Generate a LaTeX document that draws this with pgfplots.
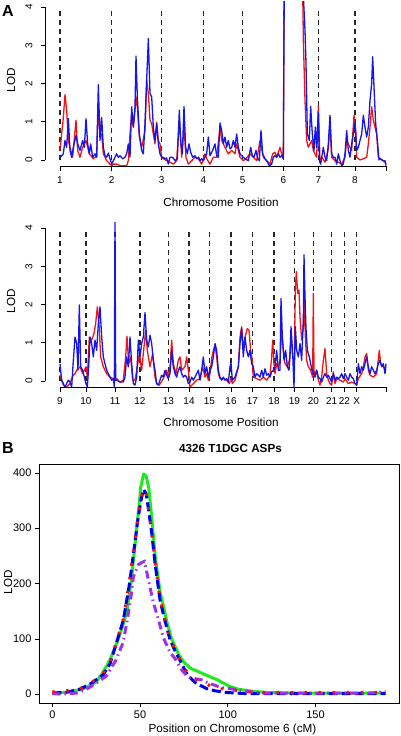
\documentclass[border=0pt]{standalone}
\usepackage{fontspec}
\setmainfont{Liberation Sans}
\usepackage{pgfplots}
\usepackage{pgfplotstable}
\pgfplotsset{compat=1.18}

% ---------- Panel A, top (chromosomes 1-8) ----------
\pgfplotstableread{
x y
180 0.25
185 0.68
190 1.11
195 1.71
200 1.30
205 0.51
210 0.33
218 0.07
228 1.04
233 0.25
240 0.07
248 0.33
258 0.51
268 0.16
280 0.03
290 0.10
295 1.50
300 0.60
305 0.68
310 0.16
320 -0.02
330 -0.11
335 -0.15
340 -0.11
350 -0.11
360 -0.15
370 -0.15
380 -0.15
385 -0.02
390 0.68
395 1.21
400 0.86
405 1.30
408 1.65
412 1.39
418 0.60
425 0.33
435 0.77
440 2.09
445 1.74
450 1.04
455 0.95
460 0.68
465 0.42
470 0.99
475 0.51
480 0.42
485 0.07
490 0.03
500 -0.02
510 -0.06
520 -0.11
530 -0.02
538 1.04
545 0.07
552 0.86
558 0.07
565 -0.11
575 -0.02
585 0.07
595 0.03
605 -0.11
615 0.16
620 0.03
630 -0.11
640 0.07
650 0.07
660 0.86
665 0.51
675 0.33
685 0.16
695 0.25
705 0.16
710 0.42
720 0.07
730 -0.02
740 0.05
750 0.16
760 0.07
770 -0.02
780 0.51
790 0.07
800 -0.02
810 -0.11
818 0.16
825 0.20
830 0.07
840 0.33
845 0.16
850 0.07
854 8.0
903 8.0
910 3.14
915 1.56
920 0.51
925 0.33
930 0.42
935 0.51
940 0.25
950 0.07
955 1.43
960 -0.02
966 0.07
975 -0.06
985 0.29
990 0.95
995 0.07
1005 -0.02
1015 -0.06
1025 -0.11
1035 0.07
1040 0.51
1050 0.33
1055 0.25
1062 1.17
1068 0.68
1070 0.07
1080 0.00
1090 0.03
1100 0.07
1105 0.42
1110 0.86
1115 1.39
1120 1.04
1125 0.86
1130 0.68
1135 0.07
1145 0.00
1155 -0.06
1158 -0.11
}\topred

\pgfplotstableread{
x y
180 0.07
185 0.11
190 0.16
195 0.51
200 0.33
205 1.08
210 0.25
215 0.07
220 0.33
228 0.64
233 0.42
240 0.25
248 0.51
253 0.33
258 1.08
263 0.42
268 0.16
272 0.42
278 0.07
285 0.16
290 0.07
295 1.97
300 0.51
305 1.11
310 0.33
315 0.11
320 0.07
325 0.18
330 0.03
335 -0.11
340 -0.02
345 0.07
350 0.16
355 0.07
360 0.11
368 0.03
375 0.07
380 0.16
385 0.42
390 0.07
395 1.39
400 0.86
405 1.39
408 2.72
412 1.65
418 0.68
425 0.25
430 0.16
435 0.95
440 2.09
445 3.18
450 1.74
455 1.65
460 0.86
465 0.51
470 0.95
475 0.42
480 0.16
485 0.07
490 0.07
495 0.03
500 0.05
505 -0.11
510 0.07
518 0.07
525 -0.02
532 0.03
538 1.30
542 0.51
547 0.16
552 1.40
557 0.33
562 0.16
567 0.42
572 0.20
578 0.07
585 0.11
590 0.03
596 0.07
600 -0.02
605 0.03
610 -0.02
615 0.07
620 0.16
625 0.60
630 0.11
638 0.25
645 0.42
650 0.11
655 0.07
660 0.97
665 0.77
670 0.42
675 0.60
680 0.33
685 0.51
690 0.29
695 0.33
700 0.51
705 0.33
710 0.68
715 0.33
720 0.16
725 0.11
730 0.07
735 0.03
745 -0.02
752 0.33
757 0.11
762 0.07
768 0.25
773 0.03
778 -0.02
783 0.77
788 0.16
795 0.03
800 -0.02
808 -0.15
815 -0.11
820 0.07
825 0.11
830 0.07
835 0.16
840 0.07
845 0.11
850 0.03
855 8.0
905 8.0
910 4.30
915 3.40
918 2.53
922 0.68
928 0.51
932 1.40
937 0.68
942 0.25
946 0.86
950 0.33
955 1.25
958 -0.02
962 -0.11
966 0.11
970 0.33
975 0.07
980 -0.02
985 0.42
990 1.17
995 0.16
1000 0.07
1005 0.07
1010 -0.11
1015 0.16
1020 -0.02
1025 -0.15
1030 -0.11
1035 0.16
1040 0.77
1045 0.25
1050 0.07
1055 0.42
1060 0.68
1065 0.99
1070 0.25
1075 0.33
1080 0.51
1085 0.68
1090 1.17
1095 0.86
1100 0.60
1105 0.86
1110 1.56
1115 2.00
1118 2.70
1122 1.91
1127 0.95
1132 0.51
1137 0.00
1142 0.03
1150 -0.02
1155 -0.02
1158 -0.15
}\topblue

% ---------- Panel A, bottom (chromosomes 9-X) ----------
\pgfplotstableread{
x y
180 0.15
190 -0.11
200 -0.16
210 -0.07
215 0.06
220 0.15
225 0.19
230 0.28
240 0.37
248 0.19
258 0.37
262 0.10
268 1.15
275 1.07
282 1.24
287 1.50
292 1.94
297 1.50
302 0.63
310 0.37
320 0.19
330 0.10
340 0.06
345 0.02
350 0.06
360 -0.03
370 0.02
377 0.63
381 1.17
386 0.45
392 0.63
398 0.02
405 0.02
412 0.37
418 0.72
425 0.28
430 0.72
437 1.33
442 0.80
450 0.37
458 0.72
465 0.10
470 -0.07
478 -0.11
490 0.06
500 0.28
505 0.10
510 0.37
515 1.07
520 0.45
528 0.19
535 0.54
540 0.63
545 0.28
555 0.37
560 0.63
565 0.28
570 -0.16
580 -0.07
590 0.02
600 0.06
608 0.37
615 0.10
620 0.19
625 0.02
630 0.19
635 0.59
640 0.80
645 0.94
650 0.63
655 0.19
660 0.06
670 0.06
680 0.02
688 -0.07
693 0.06
697 -0.07
705 0.02
715 0.37
720 1.15
725 1.42
730 0.80
735 1.15
742 1.37
747 1.33
752 0.80
757 0.54
760 0.10
770 0.06
780 0.02
790 0.10
800 0.02
810 0.15
815 0.63
818 1.07
822 0.45
825 0.19
830 0.45
835 0.37
840 0.54
845 1.33
850 0.80
855 0.45
862 0.37
868 0.54
873 1.15
878 0.63
883 0.54
886 2.38
889 2.86
893 2.29
897 2.38
900 1.68
905 1.07
910 1.42
913 2.29
916 1.15
920 0.54
925 0.37
932 0.28
938 0.10
940 2.29
942 0.28
945 0.15
950 0.28
955 0.02
960 -0.11
965 0.10
970 0.54
975 0.85
980 0.19
985 0.02
990 -0.07
995 -0.11
1000 0.24
1005 -0.07
1010 0.06
1020 0.02
1030 -0.03
1035 0.06
1045 -0.07
1055 -0.03
1065 -0.07
1070 -0.11
1075 0.06
1085 0.19
1090 0.37
1095 0.63
1100 0.72
1105 0.28
1110 0.15
1120 0.10
1130 0.19
1138 0.80
1142 0.45
1150 0.37
1158 0.28
}\botred

\pgfplotstableread{
x y
180 0.45
185 0.02
190 -0.07
195 -0.16
200 -0.07
205 0.02
210 -0.03
215 -0.16
220 0.54
225 1.15
230 0.98
234 0.28
238 1.99
242 0.37
248 0.28
253 0.10
258 -0.07
262 -0.16
266 0.37
270 1.15
275 0.98
280 0.63
285 1.07
290 0.80
295 1.50
300 1.94
305 1.15
310 0.63
315 0.45
320 0.28
325 0.19
330 0.10
335 0.02
340 0.06
343 -0.16
345 4.30
347 0.02
350 0.02
360 -0.03
370 -0.03
375 0.10
380 0.63
385 0.37
390 1.15
395 0.45
400 -0.07
405 -0.11
410 0.10
415 1.07
420 0.63
425 0.98
430 1.15
435 1.79
440 1.07
445 0.89
450 1.20
455 0.98
460 0.54
465 0.28
470 -0.07
475 -0.11
480 0.02
485 0.15
490 0.10
495 0.28
500 0.15
505 0.06
510 0.19
515 0.80
520 0.37
525 0.19
530 0.10
535 0.28
540 0.37
545 0.19
550 0.10
555 0.15
560 0.10
565 -0.07
570 -0.03
575 0.10
580 0.02
585 0.10
590 0.19
595 0.28
600 0.02
605 0.28
610 0.63
615 0.19
620 0.37
625 0.10
630 0.28
635 0.37
640 0.63
645 0.98
650 0.80
655 0.28
660 0.10
665 0.02
670 0.10
675 0.02
680 0.06
685 -0.03
690 0.37
693 0.47
697 0.02
705 0.10
715 0.37
720 0.98
725 1.37
730 0.63
735 1.15
740 0.80
745 0.63
750 0.80
755 0.45
760 0.37
765 0.10
770 0.19
775 0.15
780 0.10
785 0.28
790 0.10
795 0.32
800 0.15
805 0.19
810 0.10
815 0.24
820 0.28
825 0.37
830 0.80
835 0.28
840 0.28
843 2.16
847 1.15
852 0.54
857 0.80
862 0.37
867 0.28
870 0.63
873 1.42
878 0.72
882 -0.16
886 1.42
890 0.80
895 0.63
900 0.98
905 0.54
910 1.59
912 3.30
915 2.20
918 1.37
922 0.80
928 0.63
932 0.45
936 0.28
940 0.19
945 0.10
950 0.28
955 0.10
960 0.06
965 -0.03
970 0.10
975 0.19
980 0.10
985 0.15
990 0.06
995 -0.03
1000 0.19
1005 0.02
1010 0.10
1015 0.06
1020 0.10
1025 0.19
1030 0.06
1035 0.19
1040 0.10
1045 0.02
1050 0.19
1055 0.10
1060 0.06
1065 -0.07
1070 -0.11
1075 0.45
1080 0.19
1085 0.37
1090 0.28
1095 0.45
1100 0.63
1105 0.37
1110 0.19
1115 0.37
1120 0.28
1125 0.19
1130 0.28
1135 0.45
1140 0.54
1145 0.37
1150 0.45
1155 0.19
1158 0.45
}\botblue

% chromosome boundaries (dashed reference lines, drawn from LOD 0 to 4)
\pgfplotstableread{
x y
180 4
335 4
485 4
610 4
728 4
850 4
955 4
1065 4
}\topbounds
\pgfplotstableread{
x y
180 4
258 4
345 4
420 4
505 4
567 4
628 4
693 4
757 4
822 4
883 4
940 4
995 4
1033 4
1070 4
}\botbounds

% ---------- Panel B (chromosome 6) ----------
\pgfplotstableread{
x y
0 1
10 4
18 10
25 22
29 40
33 63
36.5 90
40 122
42.5 150
45 205
48 296
50.4 374
52 398
53.5 394
55 372
56.7 318
58.6 250
61.4 185
63.3 160
65.5 128
68 100
72 72
75 58
78.5 47
82.3 42
88 34
94 26
101 14
106 9
112 6
122 3
140 2
160 2
190 2
}\Bgreen

\pgfplotstableread{
x y
0 2
8 3.5
15.8 9
22.4 20
29 35
32.9 55
35.7 84
40.5 134
44 200
46.5 260
48.5 310
50.5 350
52 370
53.5 362
55 330
56.7 290
58.6 235
61.4 170
64 135
67.1 98
70 78
73.8 55
76 40
78.5 30
81 22
84.2 16
88 10
92.7 6
99.4 3
110 1
130 1
150 1
170 1
190 1
}\Bblue

\pgfplotstableread{
x y
0 4
7.9 6
15.8 10
22.4 21
29 38
32.9 58
35.7 86
40.5 136
44 205
46.5 265
48.5 312
50.5 352
52 372
53.5 362
55 332
56.7 292
58.6 238
61.4 172
64 137
67.1 100
70 80
73.8 55
78.5 31
82 27
86 22
92.7 10
100 9
108 5
120 3
140 3
160 3
180 3
190 3
}\Bred

\pgfplotstableread{
x y
0 1
5 0
10 1
14 2
19.5 9
27 24
30.8 33
36 60
40.3 93
42.4 128
45 180
46.2 212
49 234
51 238
52.5 240
54.8 206
57.6 165
60 140
63.3 102
67 76
70 64
73.7 44
77 32
80.4 28
85 26
89 20
92.7 16
96 12
101.3 10
108.9 6
120 2
150 2
180 2
186 3
190 5
}\Bpurple

\begin{document}
\begin{tikzpicture}
\path[use as bounding box] (0pt,0pt) rectangle (400pt,736pt);

\pgfplotsset{
  panelA/.style={
    scale only axis, width=355pt, height=165pt,
    xmin=135, xmax=1200, ymin=-0.185, ymax=4.135,
    axis lines*=left,
    axis line style={-, black, line width=1pt},
    x axis line style={shorten <=15pt, shorten >=13.33pt},
    y axis line style={shorten <=7.07pt, shorten >=5.16pt},
    tick align=outside, major tick length=4pt,
    tick style={black, line width=0.7pt},
    ytick={0,1,2,3,4},
    yticklabel style={xshift=-5pt, rotate=90, anchor=south, font=\fontsize{10}{12}\selectfont},
    xticklabel style={yshift=-2pt, font=\fontsize{10}{12}\selectfont},
    /pgf/number format/assume math mode=true,
  },
  bound/.style={ycomb, no marks, black!85, line width=1.1pt, dash pattern=on 5pt off 4pt},
  redA/.style={color={rgb,255:red,240;green,20;blue,20}, line width=1.3pt, line join=round},
  blueA/.style={color={rgb,255:red,20;green,20;blue,235}, line width=1.3pt, line join=round},
}

% ---- A top
\begin{axis}[panelA, at={(45pt,569pt)}, anchor=south west,
  xtick={180,335,485,610,728,850,955,1065,1160},
  xticklabels={1,2,3,4,5,6,7,8,{}}]
\addplot[bound] table {\topbounds};
\addplot[redA] table {\topred};
\addplot[blueA] table {\topblue};
\end{axis}

% ---- A bottom
\begin{axis}[panelA, at={(45pt,348pt)}, anchor=south west,
  xtick={180,258,345,420,505,567,628,693,757,822,883,940,995,1033,1070,1160},
  xticklabels={9,10,11,12,13,14,15,16,17,18,19,20,21,22,X,{}}]
\addplot[bound] table {\botbounds};
\addplot[redA] table {\botred};
\addplot[blueA] table {\botblue};
\end{axis}

% R-style axis lines of panel A (y axis from LOD 0 to 4, x axis from first to last tick)
\draw[black, line width=1pt] (45pt,576.07pt) -- (45pt,728.84pt);
\draw[black, line width=1pt] (60pt,569pt) -- (386.67pt,569pt);
\draw[black, line width=1pt] (45pt,355.07pt) -- (45pt,507.84pt);
\draw[black, line width=1pt] (60pt,348pt) -- (386.67pt,348pt);

% ---- B
\begin{axis}[at={(39pt,33pt)}, anchor=south west, scale only axis,
  width=360pt, height=239pt,
  xmin=-7.6, xmax=197.6, ymin=-16, ymax=416,
  xtick={0,50,100,150}, ytick={0,100,200,300,400},
  tick pos=left, tick align=outside, major tick length=4pt,
  tick style={black, line width=0.6pt},
  axis line style={line width=0.7pt},
  ticklabel style={font=\fontsize{11}{13}\selectfont},
  /pgf/number format/assume math mode=true,
  /pgf/number format/1000 sep={}]
\addplot[color={rgb,255:red,30;green,235;blue,30}, line width=3pt, line join=round] table {\Bgreen};
\addplot[color={rgb,255:red,0;green,0;blue,230}, line width=3pt, dash pattern=on 9pt off 4pt] table {\Bblue};
\addplot[color={rgb,255:red,160;green,50;blue,230}, line width=3pt, dash pattern=on 8pt off 4pt on 1.5pt off 4pt] table {\Bpurple};
\addplot[color={rgb,255:red,235;green,20;blue,20}, line width=3pt, line cap=butt, dash pattern=on 2.5pt off 11.5pt] table {\Bred};
\end{axis}

% ---- text
\node[font=\fontsize{11.7}{14}\selectfont] at (221pt,534pt) {Chromosome Position};
\node[font=\fontsize{11.7}{14}\selectfont] at (221pt,314pt) {Chromosome Position};
\node[font=\fontsize{11.7}{14}\selectfont, rotate=90] at (11pt,656pt) {LOD};
\node[font=\fontsize{11.7}{14}\selectfont, rotate=90] at (11pt,435pt) {LOD};
\node[font=\fontsize{11.7}{14}\selectfont, rotate=90] at (8pt,154pt) {LOD};
\node[font=\fontsize{16}{18}\selectfont\bfseries] at (8pt,725pt) {A};
\node[font=\fontsize{16}{18}\selectfont\bfseries] at (8pt,288pt) {B};
\node[font=\fontsize{11.7}{14}\selectfont\bfseries] at (230.5pt,288pt) {4326 T1DGC ASPs};
\node[font=\fontsize{11.7}{14}\selectfont] at (232.5pt,7pt) {Position on Chromosome 6 (cM)};
\end{tikzpicture}
\end{document}
